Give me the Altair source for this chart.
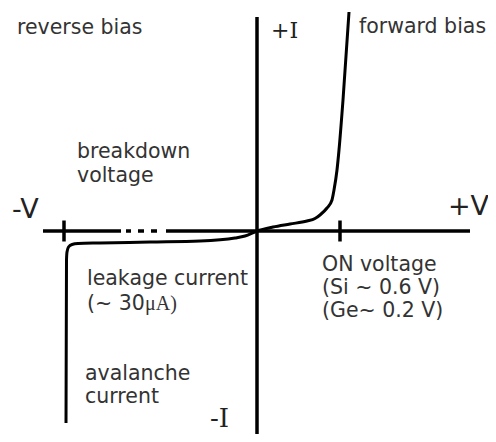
import altair as alt
import pandas as pd

# Diode I-V characteristic (origin at the axes crossing, arbitrary units)
curve_v = [-191, -190.5, -190, -188.5, -185, -179, -157, -107, -57, -22, -12, 0,
           16, 33, 50, 58, 63, 70, 75, 77, 80, 82, 86, 92]
curve_i = [-192, -29, -21, -16, -13.5, -12.5, -12, -11, -10, -7, -5, 0,
           4, 7, 10, 12.5, 16, 23, 31, 41, 61, 81, 131, 219]

# Axis segments (horizontal axis is broken by "..." on the reverse side)
haxis_start = [-214, -131, -119, -106, -91]
haxis_end = [-136, -126, -113, -100, 213]
vaxis_top = 214
vaxis_bottom = -203
tick_v = [-193, 83]
tick_half = 10.5

# Annotation labels
sans_labels = ["reverse bias", "forward bias", "breakdown", "voltage",
               "leakage current", "(~ 30", "ON voltage", "(Si ~ 0.6 V)",
               "(Ge~ 0.2 V)", "avalanche", "current"]
sans_x = [-240, 102, -180, -180, -170, -170, 65, 65, 65, -172, -172]
sans_y = [197, 198, 73, 49, -54, -79, -40, -63, -86, -149, -172]

unit_labels = ["μA)"]
unit_x = [-112]
unit_y = [-79]

axis_v_labels = ["-V", "+V"]
axis_v_x = [-245, 191]
axis_v_y = [13, 16]

plus_i_label = ["+I"]
plus_i_x = [14]
plus_i_y = [193]

minus_i_label = ["-I"]
minus_i_x = [-47]
minus_i_y = [-196]

xs = alt.Scale(domain=[-249, 231], nice=False, zero=False)
ys = alt.Scale(domain=[-203, 223], nice=False, zero=False)

curve_df = pd.DataFrame({"v": curve_v, "i": curve_i})
hax_df = pd.DataFrame({"x": haxis_start, "x2": haxis_end, "y": [0] * len(haxis_start)})
vax_df = pd.DataFrame({"x": [0], "y": [vaxis_top], "y2": [vaxis_bottom]})
tick_df = pd.DataFrame({"x": tick_v, "y": [tick_half] * 2, "y2": [-tick_half] * 2})

sans_df = pd.DataFrame({"t": sans_labels, "x": sans_x, "y": sans_y})
unit_df = pd.DataFrame({"t": unit_labels, "x": unit_x, "y": unit_y})
av_df = pd.DataFrame({"t": axis_v_labels, "x": axis_v_x, "y": axis_v_y})
pi_df = pd.DataFrame({"t": plus_i_label, "x": plus_i_x, "y": plus_i_y})
mi_df = pd.DataFrame({"t": minus_i_label, "x": minus_i_x, "y": minus_i_y})

hax = alt.Chart(hax_df).mark_rule(color="#000", strokeWidth=3.5).encode(
    x=alt.X("x:Q", scale=xs, axis=None), x2="x2:Q",
    y=alt.Y("y:Q", scale=ys, axis=None))
vax = alt.Chart(vax_df).mark_rule(color="#000", strokeWidth=3.5).encode(
    x=alt.X("x:Q", scale=xs, axis=None),
    y=alt.Y("y:Q", scale=ys, axis=None), y2="y2:Q")
ticks = alt.Chart(tick_df).mark_rule(color="#000", strokeWidth=3.5).encode(
    x=alt.X("x:Q", scale=xs, axis=None),
    y=alt.Y("y:Q", scale=ys, axis=None), y2="y2:Q")
curve = alt.Chart(curve_df).mark_line(color="#000", strokeWidth=3,
                                      interpolate="monotone").encode(
    x=alt.X("v:Q", scale=xs, axis=None),
    y=alt.Y("i:Q", scale=ys, axis=None))

def texts(df, font, size, color):
    return alt.Chart(df).mark_text(font=font, fontSize=size, color=color,
                                   align="left", baseline="alphabetic").encode(
        x=alt.X("x:Q", scale=xs, axis=None),
        y=alt.Y("y:Q", scale=ys, axis=None),
        text="t:N")

chart = alt.layer(
    hax, vax, ticks, curve,
    texts(sans_df, "DejaVu Sans", 20.5, "#333"),
    texts(unit_df, "Liberation Serif", 20, "#333"),
    texts(av_df, "DejaVu Sans", 27, "#222"),
    texts(pi_df, "DejaVu Serif", 22, "#222"),
    texts(mi_df, "DejaVu Serif", 26, "#222"),
).properties(width=480, height=426, padding=0, autosize="none").configure_view(stroke=None)

chart.save("out.html", embed_options={"renderer": "svg", "actions": False})
